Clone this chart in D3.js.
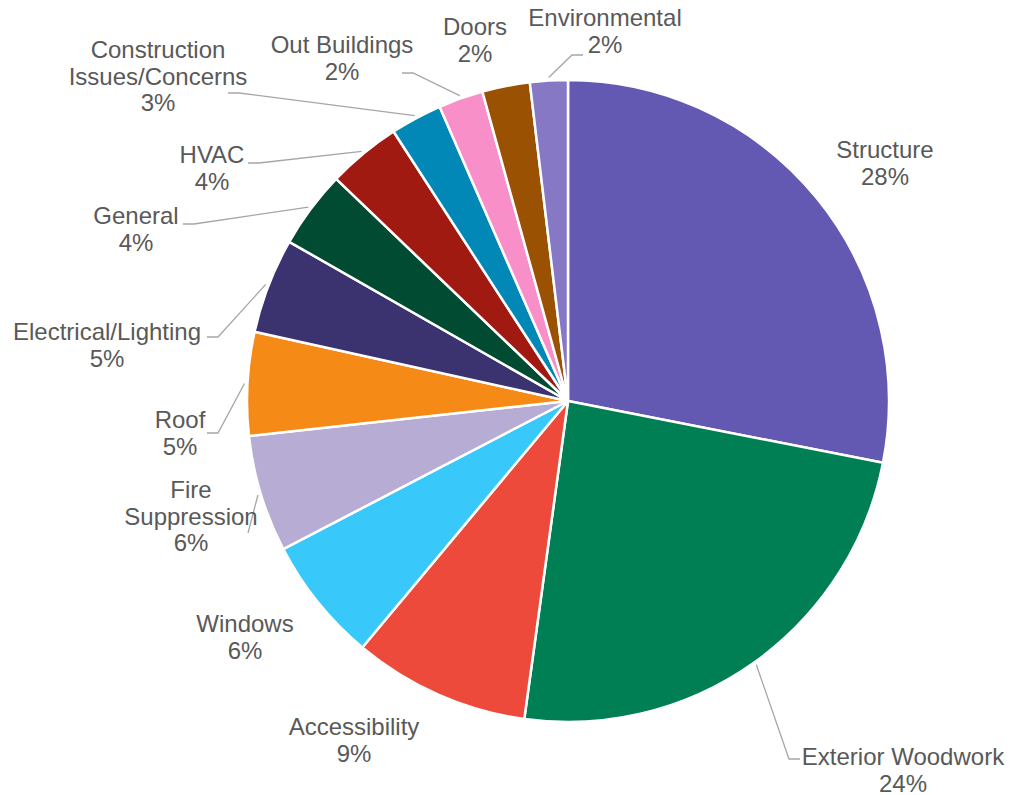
<!DOCTYPE html>
<html>
<head>
<meta charset="utf-8">
<script src="https://cdn.jsdelivr.net/npm/d3@7"></script>
<style>
  body { margin: 0; background: #fff; }
  text { font-family: "Liberation Sans", Arial, sans-serif; fill: #595959; }
</style>
</head>
<body>
<div id="chart"></div>
<script>
// Width and height
var w = 1010;
var h = 795;

// categories and their share (percent)
var categories = ["Structure", "Exterior Woodwork", "Accessibility", "Windows",
  "Fire Suppression", "Roof", "Electrical/Lighting", "General", "HVAC",
  "Construction Issues/Concerns", "Out Buildings", "Doors", "Environmental"];
var values = [28.1, 24.1, 8.9, 6.3, 5.9, 5.2, 4.8, 3.9, 3.7, 2.6, 2.25, 2.4, 1.9];
// how each label is broken into lines
var labelLines = [["Structure"], ["Exterior Woodwork"], ["Accessibility"], ["Windows"],
  ["Fire", "Suppression"], ["Roof"], ["Electrical/Lighting"], ["General"], ["HVAC"],
  ["Construction", "Issues/Concerns"], ["Out Buildings"], ["Doors"], ["Environmental"]];

var colors = ["#6459B2", "#007F54", "#EE4A3C", "#38C9FA", "#B7ACD4", "#F58A17",
  "#3B3270", "#004B32", "#A11A12", "#0288B6", "#F98FC9", "#9A5102", "#8678C4"];

// pie geometry
var cx = 568, cy = 401, r = 321;
var lineH = 26.5;

// label placement (offsets from pie centre): text centre x, first baseline y,
// and the end of the leader line (null = no leader)
var labelLayout = [
  { x: 317, y: -243, lead: null },
  { x: 335, y: 364, lead: [232, 358] },
  { x: -214, y: 334, lead: null },
  { x: -323, y: 231, lead: null },
  { x: -377, y: 97, lead: [-320, 132], straight: true },
  { x: -388, y: 27, lead: [-361, 32] },
  { x: -461, y: -61, lead: [-361, -64] },
  { x: -432, y: -177, lead: [-385, -177] },
  { x: -356, y: -238, lead: [-320, -238] },
  { x: -410, y: -343, lead: [-340, -308] },
  { x: -226, y: -348, lead: [-166, -328] },
  { x: -93, y: -366, lead: null },
  { x: 37, y: -375, lead: [15, -346] }
];

var data = categories.map(function(c, i) {
  return { name: c, value: values[i], lines: labelLines[i], layout: labelLayout[i] };
});

var pie = d3.pie()
  .sort(null)
  .value(function(d) { return d.value; })
  .startAngle(0)
  .endAngle(2 * Math.PI);

var arc = d3.arc().innerRadius(0).outerRadius(r);
var total = d3.sum(values);

//Create SVG element
var svg = d3.select("#chart")
  .append("svg")
  .attr("width", w)
  .attr("height", h);

var g = svg.append("g")
  .attr("transform", "translate(" + cx + "," + cy + ")");

var arcs = pie(data);

g.selectAll("path.slice")
  .data(arcs)
  .enter()
  .append("path")
  .attr("class", "slice")
  .attr("d", arc)
  .attr("fill", function(d, i) { return colors[i]; })
  .attr("stroke", "#fff")
  .attr("stroke-width", 2.5)
  .attr("stroke-linejoin", "round");

// leader lines
g.selectAll("path.leader")
  .data(arcs.filter(function(d) { return d.data.layout.lead; }))
  .enter()
  .append("path")
  .attr("class", "leader")
  .attr("fill", "none")
  .attr("stroke", "#a6a6a6")
  .attr("stroke-width", 1.3)
  .attr("d", function(d) {
    var mid = (d.startAngle + d.endAngle) / 2;
    var sx = Math.sin(mid) * (r + 3), sy = -Math.cos(mid) * (r + 3);
    var e = d.data.layout.lead;
    if (d.data.layout.straight) return d3.line()([[sx, sy], e]);
    var side = e[0] > sx ? 1 : -1;
    return d3.line()([[sx, sy], [e[0] - side * 11, e[1]], e]);
  });

// labels: name lines then percent
var labels = g.selectAll("text.lbl")
  .data(arcs)
  .enter()
  .append("text")
  .attr("class", "lbl")
  .attr("text-anchor", "middle")
  .style("font-size", "24px")
  .attr("x", function(d) { return d.data.layout.x; })
  .attr("y", function(d) { return d.data.layout.y; });

labels.each(function(d) {
  var t = d3.select(this);
  var lines = d.data.lines.concat([d3.format(".0f")(d.data.value / total * 100) + "%"]);
  lines.forEach(function(l, k) {
    t.append("tspan")
      .attr("x", d.data.layout.x)
      .attr("dy", k === 0 ? 0 : lineH)
      .text(l);
  });
});
</script>
</body>
</html>
